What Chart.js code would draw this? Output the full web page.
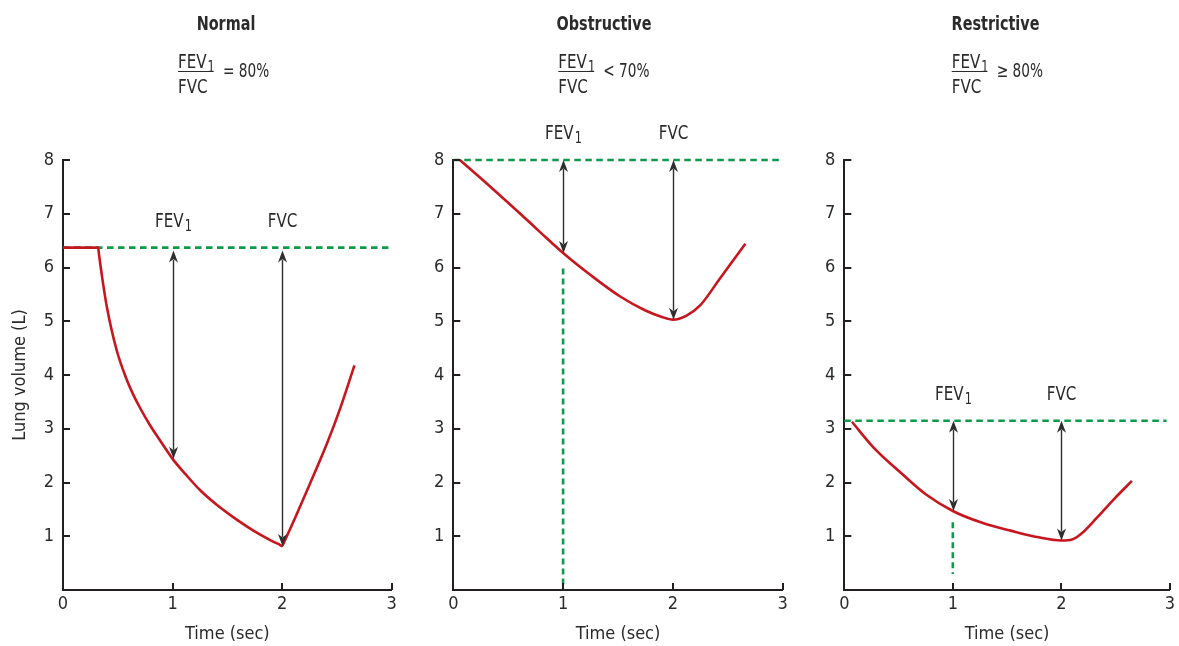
<!DOCTYPE html>
<html>
<head>
<meta charset="utf-8">
<title>Spirometry volume-time curves</title>
<script src="https://cdn.jsdelivr.net/npm/chart.js@4.4.1/dist/chart.umd.min.js"></script>
<style>
  html, body { margin: 0; padding: 0; background: #fff; }
  #wrap { position: relative; width: 1179px; height: 646px; overflow: hidden; }
  #wrap canvas { position: absolute; top: 0; }
</style>
</head>
<body>
<div id="wrap">
  <canvas id="normalChart" width="410" height="646" style="left:0px"></canvas>
  <canvas id="obstructiveChart" width="390" height="646" style="left:410px"></canvas>
  <canvas id="restrictiveChart" width="379" height="646" style="left:800px"></canvas>
</div>
<script>
// ---- data ----
const timeTicks = [0, 1, 2, 3];
const volumeTicks = [1, 2, 3, 4, 5, 6, 7, 8];
const panelTitles = ['Normal', 'Obstructive', 'Restrictive'];
const ratioTexts = ['= 80%', '< 70%', '\u2265 80%'];
const arrowTimes = [1, 2];          // FEV1 at 1 s, FVC at 2 s
const fullLineEnd = 2.97;

// Normal
const normalTime   = [0, 0.32, 0.33, 0.36, 0.40, 0.49, 0.58, 0.64, 0.70, 0.79, 0.88, 1.00, 1.12, 1.25, 1.40, 1.55, 1.68, 1.80, 1.90, 1.98, 2.00, 2.02, 2.12, 2.25, 2.41, 2.53, 2.66];
const normalVolume = [6.37, 6.37, 6.22, 5.78, 5.27, 4.46, 3.92, 3.64, 3.40, 3.08, 2.80, 2.44, 2.15, 1.86, 1.59, 1.36, 1.18, 1.03, 0.92, 0.84, 0.82, 0.90, 1.35, 1.96, 2.73, 3.38, 4.18];
const normalFullVolume = 6.37;

// Obstructive
const obstructiveTime   = [0.06, 0.35, 0.61, 0.80, 1.00, 1.25, 1.52, 1.75, 1.90, 2.00, 2.12, 2.25, 2.43, 2.66];
const obstructiveVolume = [8.00, 7.48, 7.00, 6.64, 6.27, 5.86, 5.46, 5.20, 5.08, 5.03, 5.10, 5.30, 5.80, 6.44];
const obstructiveFullVolume = 8.0;
const obstructiveFevLine = [5.98, 0];

// Restrictive
const restrictiveTime   = [0.07, 0.27, 0.51, 0.75, 1.00, 1.27, 1.54, 1.79, 2.00, 2.10, 2.18, 2.33, 2.49, 2.65];
const restrictiveVolume = [3.13, 2.65, 2.20, 1.78, 1.47, 1.25, 1.10, 0.98, 0.92, 0.94, 1.04, 1.35, 1.70, 2.03];
const restrictiveFullVolume = 3.15;
const restrictiveFevLine = [1.26, 0.30];

// ---- style ----
const FONT = '"DejaVu Sans Condensed", "DejaVu Sans", sans-serif';
const SQUEEZE = 0.84;   // narrower lettering for headings and arrow labels
const RED = '#c8161e';
const GREEN = '#0e9a4a';
const AXIS = '#231f20';
const TEXT = '#2b2b2b';
const ARROW = '#2e2e2e';

Chart.defaults.font.family = FONT;
Chart.defaults.color = TEXT;

function toPoints(xs, ys) {
    return xs.map((x, i) => ({ x: x, y: ys[i] }));
}

function textWidth(ctx, text, font, squeeze) {
    ctx.font = font;
    return ctx.measureText(text).width * squeeze;
}

// draws text squeezed horizontally around its anchor
function narrowText(ctx, text, x, y, font, align, baseline, squeeze) {
    ctx.save();
    ctx.font = font;
    ctx.textAlign = align;
    ctx.textBaseline = baseline;
    ctx.translate(x, y);
    ctx.scale(squeeze, 1);
    ctx.fillText(text, 0, 0);
    ctx.restore();
}

// text with a subscript, e.g. FEV1
function subText(ctx, main, sub, x, baseline, align, size) {
    const mainFont = size + 'px ' + FONT;
    const subFont = Math.round(size * 0.75) + 'px ' + FONT;
    const wMain = textWidth(ctx, main, mainFont, SQUEEZE);
    const wSub = textWidth(ctx, sub, subFont, SQUEEZE);
    const total = wMain + 1 + wSub;
    const left = align === 'center' ? x - total / 2 : x;
    narrowText(ctx, main, left, baseline, mainFont, 'left', 'alphabetic', SQUEEZE);
    narrowText(ctx, sub, left + wMain + 1, baseline + 4, subFont, 'left', 'alphabetic', SQUEEZE);
}

function arrowHead(ctx, x, tipY, dir) {
    // dir -1 points up, +1 points down
    const len = 12, half = 4.5, notch = 3.5;
    ctx.beginPath();
    ctx.moveTo(x, tipY);
    ctx.lineTo(x - half, tipY - dir * len);
    ctx.lineTo(x, tipY - dir * (len - notch));
    ctx.lineTo(x + half, tipY - dir * len);
    ctx.closePath();
    ctx.fill();
}

function spiroDecor(cfg) {
    return {
        id: 'spiroDecor',
        afterDraw(chart) {
            const ctx = chart.ctx;
            const x = chart.scales.x;
            const y = chart.scales.y;
            const ox = cfg.left;
            ctx.save();

            // tick marks point into the plot
            ctx.strokeStyle = AXIS;
            ctx.lineWidth = 2;
            ctx.beginPath();
            timeTicks.forEach(t => {
                if (t === 0) return;
                const px = Math.round(x.getPixelForValue(t));
                ctx.moveTo(px, y.bottom);
                ctx.lineTo(px, y.bottom - 7);
            });
            volumeTicks.forEach(v => {
                const py = Math.round(y.getPixelForValue(v));
                ctx.moveTo(x.left, py);
                ctx.lineTo(x.left + 7, py);
            });
            ctx.stroke();

            // heading and ratio
            ctx.fillStyle = TEXT;
            narrowText(ctx, cfg.title, cfg.titleX - ox, 30, 'bold 20px ' + FONT, 'center', 'alphabetic', 0.8);

            const fx = cfg.fracX - ox;
            subText(ctx, 'FEV', '1', fx, 68, 'left', 20);
            ctx.strokeStyle = TEXT;
            ctx.lineWidth = 1.2;
            ctx.beginPath();
            ctx.moveTo(fx, 71.5);
            ctx.lineTo(fx + 34, 71.5);
            ctx.stroke();
            narrowText(ctx, 'FVC', fx, 93, '20px ' + FONT, 'left', 'alphabetic', SQUEEZE);
            narrowText(ctx, cfg.ratio, fx + 45, 72, '19px ' + FONT, 'left', 'middle', 0.8);

            // FEV1 / FVC arrows from full volume down to the curve
            const topPx = y.getPixelForValue(cfg.full) + (cfg.arrowGap || 0);
            arrowTimes.forEach((t, i) => {
                const idx = cfg.time.indexOf(t);
                const botPx = y.getPixelForValue(cfg.volume[idx]);
                const px = Math.round(x.getPixelForValue(t)) + 0.5;
                ctx.strokeStyle = ARROW;
                ctx.fillStyle = ARROW;
                ctx.lineWidth = 1.4;
                ctx.beginPath();
                ctx.moveTo(px, topPx + 9);
                ctx.lineTo(px, botPx - 9);
                ctx.stroke();
                arrowHead(ctx, px, topPx, -1);
                arrowHead(ctx, px, botPx, 1);

                ctx.fillStyle = TEXT;
                const labelY = y.getPixelForValue(cfg.full) - 21;
                if (i === 0) {
                    subText(ctx, 'FEV', '1', px, labelY, 'center', 20);
                } else {
                    narrowText(ctx, 'FVC', px, labelY, '20px ' + FONT, 'center', 'alphabetic', SQUEEZE);
                }
            });
            ctx.restore();
        }
    };
}

function buildChart(canvasId, cfg) {
    const datasets = [{
        data: toPoints([0, fullLineEnd], [cfg.full, cfg.full]),
        borderColor: GREEN, borderWidth: 2.6, borderDash: [6.5, 4.5],
        pointRadius: 0, clip: false, order: 2
    }];
    if (cfg.fevLine) {
        datasets.push({
            data: toPoints([1, 1], cfg.fevLine),
            borderColor: GREEN, borderWidth: 2.6, borderDash: [6, 4],
            pointRadius: 0, clip: false, order: 2
        });
    }
    datasets.push({
        data: toPoints(cfg.time, cfg.volume),
        borderColor: RED, borderWidth: 2.6,
        pointRadius: 0, clip: false, order: 1,
        cubicInterpolationMode: 'monotone'
    });

    return new Chart(document.getElementById(canvasId), {
        type: 'line',
        data: { datasets: datasets },
        options: {
            responsive: false,
            animation: false,
            events: [],
            layout: { padding: { left: 0, right: cfg.padRight, top: 160, bottom: 0 } },
            plugins: { legend: { display: false }, tooltip: { enabled: false } },
            scales: {
                x: {
                    type: 'linear', min: 0, max: 3,
                    afterFit: s => { s.height = 56; },
                    afterBuildTicks: s => { s.ticks = timeTicks.map(v => ({ value: v })); },
                    grid: { display: false, drawTicks: false },
                    border: { display: true, color: AXIS, width: 2 },
                    ticks: { padding: 4, color: TEXT, font: { size: 18 }, callback: v => String(v) },
                    title: { display: true, text: 'Time (sec)', color: TEXT, font: { size: 18 }, padding: { top: 0, bottom: 1 } }
                },
                y: {
                    type: 'linear', min: 0, max: 8,
                    afterFit: s => { s.width = cfg.axisWidth; },
                    afterBuildTicks: s => { s.ticks = volumeTicks.map(v => ({ value: v })); },
                    grid: { display: false, drawTicks: false },
                    border: { display: true, color: AXIS, width: 2 },
                    ticks: { padding: 9, color: TEXT, font: { size: 18 }, callback: v => String(v) },
                    title: { display: cfg.yTitle, text: 'Lung volume (L)', color: TEXT, font: { size: 18 }, padding: { top: 10, bottom: 0 } }
                }
            }
        },
        plugins: [spiroDecor(cfg)]
    });
}

buildChart('normalChart', {
    left: 0, axisWidth: 63, padRight: 18.3, yTitle: true,
    title: panelTitles[0], ratio: ratioTexts[0], titleX: 226, fracX: 178,
    time: normalTime, volume: normalVolume, full: normalFullVolume,
    arrowGap: 3
});

buildChart('obstructiveChart', {
    left: 410, axisWidth: 43.3, padRight: 17.3, yTitle: false,
    title: panelTitles[1], ratio: ratioTexts[1], titleX: 604, fracX: 558.3,
    time: obstructiveTime, volume: obstructiveVolume, full: obstructiveFullVolume,
    fevLine: obstructiveFevLine
});

buildChart('restrictiveChart', {
    left: 800, axisWidth: 44.3, padRight: 6.3, yTitle: false,
    title: panelTitles[2], ratio: ratioTexts[2], titleX: 995.5, fracX: 951.7,
    time: restrictiveTime, volume: restrictiveVolume, full: restrictiveFullVolume,
    fevLine: restrictiveFevLine
});
</script>
</body>
</html>
